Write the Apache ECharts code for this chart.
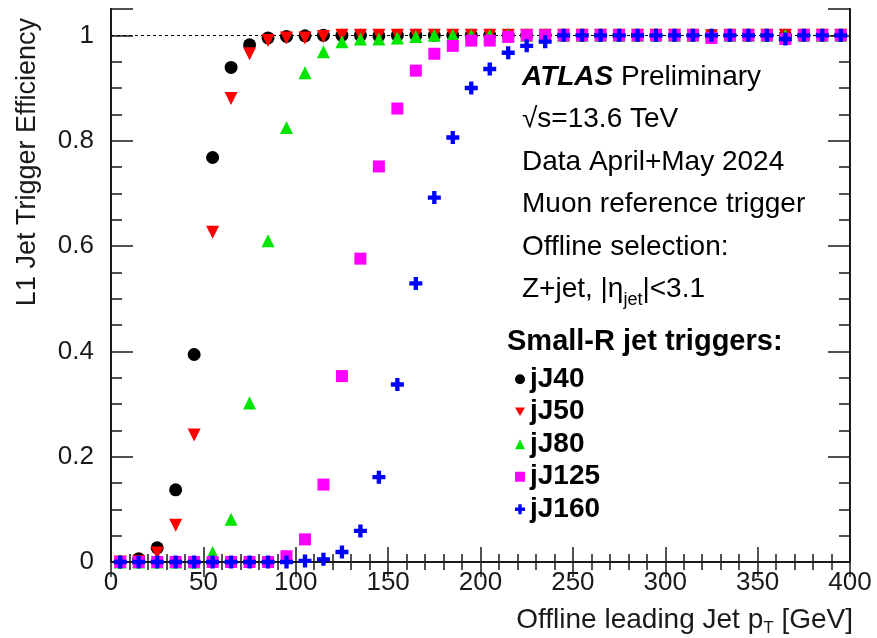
<!DOCTYPE html>
<html>
<head>
<meta charset="utf-8">
<script src="https://cdn.jsdelivr.net/npm/echarts@6/dist/echarts.min.js"></script>
<style>
  html, body { margin: 0; padding: 0; background: #fff; }
  #main { width: 877px; height: 638px; }
</style>
</head>
<body>
<div id="main"></div>
<script>
// bin centres (GeV)
var ptBins = [5, 15, 25, 35, 45, 55, 65, 75, 85, 95,
              105, 115, 125, 135, 145, 155, 165, 175, 185, 195,
              205, 215, 225, 235, 245, 255, 265, 275, 285, 295,
              305, 315, 325, 335, 345, 355, 365, 375, 385, 395];

var effJ40 = [0, 0.006, 0.027, 0.137, 0.394, 0.768, 0.939, 0.982, 0.995, 0.998,
              0.999, 1, 1, 1, 0.999, 1, 1, 1, 1, 1,
              1, 1, 1, 1, 1, 1, 1, 1, 1, 1,
              1, 1, 1, 1, 1, 1, 1, 1, 1, 1];
var effJ50 = [0, 0.001, 0.017, 0.070, 0.241, 0.626, 0.880, 0.965, 0.990, 0.995,
              0.995, 0.998, 1, 1, 1, 1, 1, 1, 1, 1,
              1, 1, 1, 1, 1, 1, 1, 1, 1, 1,
              1, 1, 0.999, 1, 1, 1, 1, 1, 1, 1];
var effJ80 = [0, 0, 0, 0, 0, 0.018, 0.081, 0.302, 0.610, 0.825,
              0.929, 0.969, 0.988, 0.993, 0.993, 0.995, 0.998, 1, 1, 1,
              1, 1, 1, 1, 1, 1, 1, 1, 1, 1,
              1, 1, 1, 1, 1, 1, 1, 1, 1, 1];
var effJ125 = [0, 0, 0, 0, 0, 0, 0, 0, 0, 0.011,
               0.043, 0.147, 0.353, 0.576, 0.751, 0.861, 0.933, 0.965, 0.980, 0.990,
               0.990, 0.997, 1, 1, 1, 1, 1, 1, 1, 1,
               1, 1, 0.995, 1, 1, 1, 0.993, 1, 1, 1];
var effJ160 = [0, 0, 0, 0, 0, 0, 0, 0, 0, 0,
               0.002, 0.005, 0.019, 0.059, 0.161, 0.337, 0.529, 0.692, 0.806, 0.900,
               0.936, 0.967, 0.980, 0.988, 1, 1, 1, 1, 1, 1,
               1, 1, 1, 1, 1, 1, 0.993, 1, 1, 1];

var trigNames = ['jJ40', 'jJ50', 'jJ80', 'jJ125', 'jJ160'];

(function () {
    var myChart = echarts.init(document.querySelector('#main'))
    var font = '"Liberation Sans", Arial, Helvetica, sans-serif'
    var ink = '#1a1a1a'
    var plus = 'path://M4,0H8V4H12V8H8V12H4V8H0V4H4Z'
    var triDown = 'path://M0,0L12,0L6,10.4Z'

    function pairs(ys) {
        return ptBins.map(function (x, i) { return [x, ys[i]] })
    }

    // common grid rect, two grids so that y gets major + minor ticks
    var rect = { left: 111, right: 27, top: 9, bottom: 76 }

    var xBase = {
        type: 'value', min: 0, max: 400, interval: 50,
        axisLine: { lineStyle: { color: ink, width: 2 } },
        axisTick: { inside: true, length: 15, lineStyle: { color: ink, width: 1.5 } },
        minorTick: { show: true, splitNumber: 5, length: 8, lineStyle: { color: ink, width: 1.5 } },
        splitLine: { show: false }
    }
    function yAxis(grid, pos, step, len, labels) {
        return {
            type: 'value', gridIndex: grid, position: pos, min: 0, max: 1.05, interval: step,
            axisLine: { show: true, onZero: false, lineStyle: { color: ink, width: 2 } },
            axisTick: { inside: true, length: len, lineStyle: { color: ink, width: 1.5 } },
            axisLabel: labels ? {
                show: true, fontSize: 26, fontFamily: font, color: ink, margin: 17,
                formatter: function (v) { return v > 1.01 ? '' : String(+v.toFixed(1)) }
            } : { show: false },
            splitLine: { show: false }
        }
    }

    var colors = ['#000000', '#ff0000', '#00e600', '#ff00ff', '#0000ff']
    var symbols = ['circle', triDown, 'triangle', 'rect', plus]
    var sizes = [13, 13, 13, 12, 13]
    var sets = [effJ40, effJ50, effJ80, effJ125, effJ160]

    var series = sets.map(function (d, i) {
        var s = {
            name: trigNames[i],
            type: 'scatter',
            xAxisIndex: 0, yAxisIndex: 0,
            data: pairs(d),
            symbol: symbols[i],
            symbolSize: sizes[i],
            itemStyle: { color: colors[i], opacity: 1 },
            emphasis: { disabled: true },
            z: 3 + i
        }
        if (i === 0) {
            // dashed line at efficiency 1
            s.markLine = {
                silent: true, symbol: 'none', z: 1,
                label: { show: false },
                lineStyle: { color: '#000', type: [3, 3], width: 1 },
                data: [{ yAxis: 1 }]
            }
        }
        return s
    })

    var option = {
        backgroundColor: '#ffffff',
        animation: false,
        grid: [
            Object.assign({ containLabel: false }, rect),
            Object.assign({ containLabel: false }, rect)
        ],
        xAxis: [
            Object.assign({}, xBase, {
                gridIndex: 0, position: 'bottom',
                axisLabel: { fontSize: 26, fontFamily: font, color: ink, margin: 8 }
            }),
            Object.assign({}, xBase, {
                gridIndex: 0, position: 'top',
                axisLabel: { show: false }
            }),
            { type: 'value', gridIndex: 1, min: 0, max: 400, show: false }
        ],
        yAxis: [
            yAxis(0, 'left', 0.2, 22, true),
            yAxis(0, 'right', 0.2, 22, false),
            yAxis(1, 'left', 0.05, 11, false),
            yAxis(1, 'right', 0.05, 11, false)
        ],
        legend: {
            orient: 'vertical',
            left: 510, top: 358,
            itemWidth: 10, itemHeight: 10, itemGap: 0,
            itemStyle: { opacity: 1 },
            textStyle: { fontSize: 28, fontWeight: 'bold', fontFamily: font, color: '#000', lineHeight: 32.5 },
            selectedMode: false,
            data: trigNames
        },
        graphic: [
            {
                type: 'text', x: 522, y: 77,
                style: {
                    text: '{a|ATLAS} {b|Preliminary}', verticalAlign: 'middle',
                    rich: {
                        a: { fontSize: 28, fontStyle: 'italic', fontWeight: 'bold', fontFamily: font, fill: '#000' },
                        b: { fontSize: 28, fontFamily: font, fill: '#000' }
                    },
                    fontSize: 28, fontFamily: font, fill: '#000'
                }
            },
            { type: 'text', x: 522, y: 119, style: { text: '\u221As=13.6 TeV', fontSize: 28, fontFamily: font, fill: '#000', verticalAlign: 'middle' } },
            { type: 'text', x: 522, y: 162, style: { text: 'Data April+May 2024', fontSize: 28, fontFamily: font, fill: '#000', verticalAlign: 'middle' } },
            { type: 'text', x: 522, y: 204, style: { text: 'Muon reference trigger', fontSize: 28, fontFamily: font, fill: '#000', verticalAlign: 'middle' } },
            { type: 'text', x: 522, y: 247, style: { text: 'Offline selection:', fontSize: 28, fontFamily: font, fill: '#000', verticalAlign: 'middle' } },
            {
                type: 'text', x: 522, y: 289,
                style: {
                    text: 'Z+jet, |\u03B7{s|jet}|<3.1', verticalAlign: 'middle',
                    fontSize: 28, fontFamily: font, fill: '#000',
                    rich: { s: { fontSize: 18, fontFamily: font, fill: '#000', padding: [22, 0, 0, 0] } }
                }
            },
            { type: 'text', x: 507, y: 342, style: { text: 'Small-R jet triggers:', fontSize: 29, fontWeight: 'bold', fontFamily: font, fill: '#000', verticalAlign: 'middle' } },
            {
                type: 'text', x: 853, y: 620,
                style: {
                    text: 'Offline leading Jet p{s|T} [GeV]', align: 'right', verticalAlign: 'middle',
                    fontSize: 28, fontFamily: font, fill: ink,
                    rich: { s: { fontSize: 17, fontFamily: font, fill: ink, padding: [16, 0, 0, 0] } }
                }
            },
            {
                type: 'text', x: 28, y: 18, rotation: Math.PI / 2,
                style: { text: 'L1 Jet Trigger Efficiency', align: 'right', verticalAlign: 'middle', fontSize: 27, fontFamily: font, fill: ink }
            }
        ],
        series: series
    }
    myChart.setOption(option)
    window.addEventListener('resize', function () {
        myChart.resize()
    })
})()
</script>
</body>
</html>
